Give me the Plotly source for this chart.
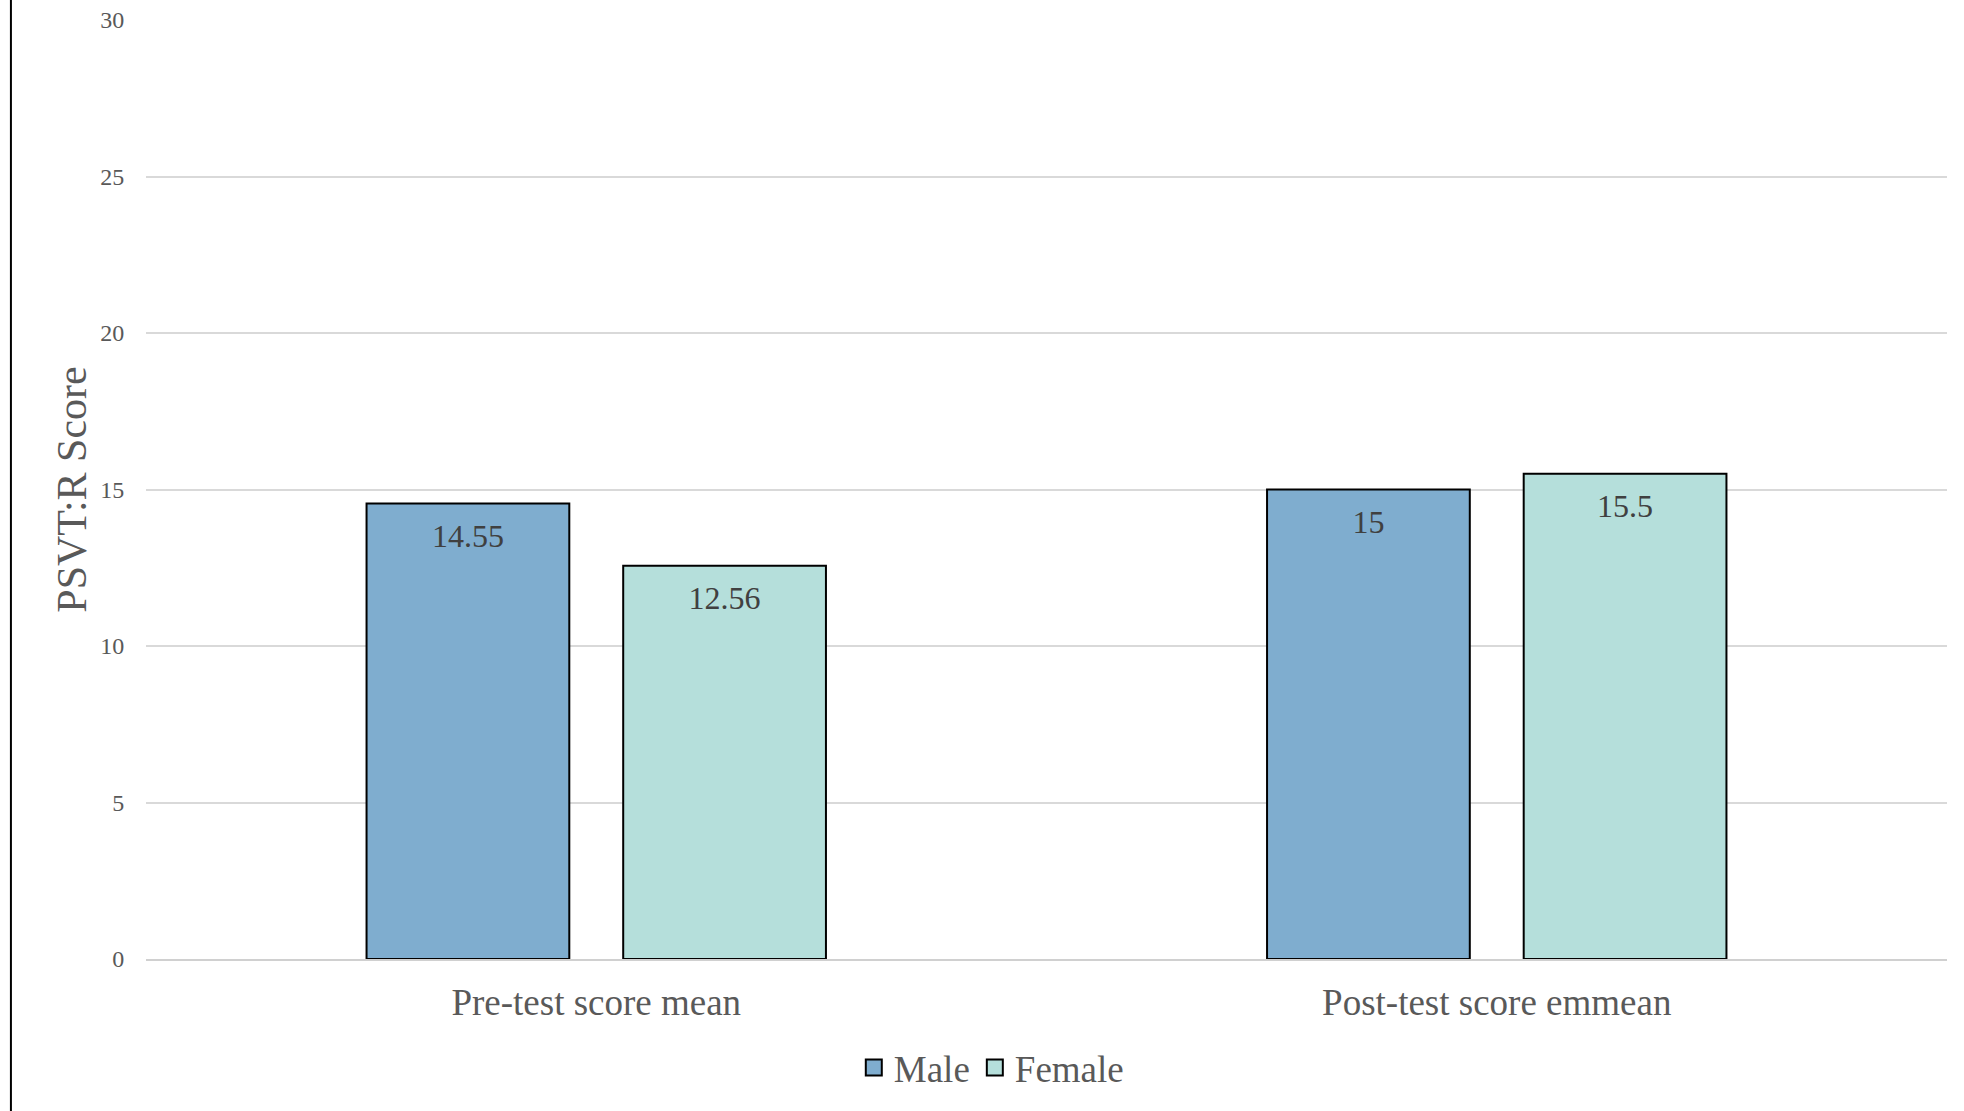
import plotly.graph_objects as go

categories = ["Pre-test score mean", "Post-test score emmean"]
series_names = ["Male", "Female"]
male_values = [14.55, 15]
female_values = [12.56, 15.5]
male_labels = ["14.55", "15"]
female_labels = ["12.56", "15.5"]
y_ticks = [0, 5, 10, 15, 20, 25, 30]
colors = ["#7FADCF", "#B5DFDB"]

FONT = "Liberation Serif, Times New Roman, serif"
GAP = 0.43

fig = go.Figure()
for name, vals, col in zip(series_names, [male_values, female_values], colors):
    fig.add_trace(go.Bar(
        name=name, x=categories, y=vals, showlegend=False, offsetgroup=name,
        marker=dict(color=col, line=dict(color="#000000", width=2)),
    ))
# value labels, aligned with the grouped bars
for name, vals, labels in zip(series_names, [male_values, female_values],
                              [male_labels, female_labels]):
    fig.add_trace(go.Scatter(
        name=name, x=categories, y=vals, text=labels, mode="markers+text",
        offsetgroup=name, showlegend=False, hoverinfo="skip",
        textposition="bottom center", cliponaxis=False,
        marker=dict(size=29, color="rgba(0,0,0,0)"),
        textfont=dict(family=FONT, size=32, color="#404040"),
    ))
# legend proxies (larger square symbols)
for name, col in zip(series_names, colors):
    fig.add_trace(go.Scatter(
        name=name, x=[None], y=[None], mode="markers", offsetgroup=name,
        marker=dict(symbol="square", size=16, color=col, line=dict(color="#000000", width=2)),
    ))

fig.update_layout(
    width=1964, height=1111,
    margin=dict(l=146, r=17, t=20, b=150),
    paper_bgcolor="white", plot_bgcolor="white",
    font=dict(family=FONT, color="#595959"),
    barmode="group", bargap=GAP, bargroupgap=0.21,
    scattermode="group", scattergap=GAP,
    showlegend=True,
    legend=dict(orientation="h", x=0.393, xanchor="left", y=-0.116, yanchor="middle",
                font=dict(size=37, color="#595959"), itemwidth=30,
                traceorder="normal"),
    shapes=[dict(type="line", xref="paper", yref="paper",
                 x0=-0.075, x1=-0.075, y0=-0.2, y1=1.05,
                 line=dict(color="#000000", width=2))],
)
fig.update_yaxes(
    range=[0, 30], tickvals=y_ticks, showgrid=True, gridcolor="#D9D9D9", gridwidth=2,
    zeroline=False, showline=False, ticks="outside", ticklen=16, tickcolor="rgba(0,0,0,0)",
    tickfont=dict(size=24, color="#595959"), automargin=False,
    title=dict(text="PSVT:R Score", font=dict(size=42, color="#595959"), standoff=0),
)
fig.update_xaxes(
    showline=True, linecolor="#D0D0D0", linewidth=2, automargin=False,
    ticks="outside", ticklen=10, tickcolor="rgba(0,0,0,0)",
    tickfont=dict(size=37, color="#595959"),
)

fig.write_html("out.html")
